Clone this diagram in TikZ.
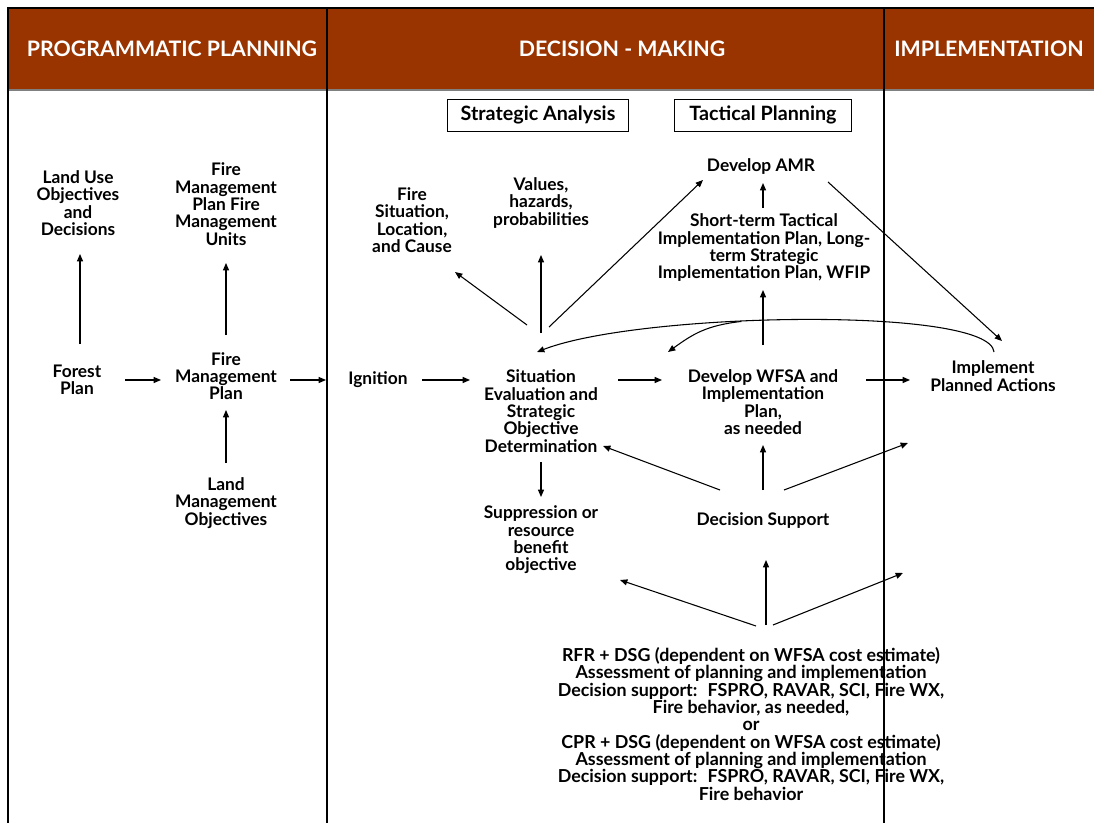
\documentclass[tikz,border=0pt]{standalone}
\usepackage{fontspec}
\setmainfont{Lato}
\usetikzlibrary{arrows.meta,calc}
\definecolor{bandbrown}{RGB}{153,51,0}

\begin{document}
\begin{tikzpicture}[x=0.75pt,y=0.75pt,yscale=-1,xscale=1,
    txt/.style={align=center,inner sep=0pt,font=\bfseries\fontsize{13}{13}\selectfont},
    head/.style={text=white,inner sep=0pt,font=\bfseries\fontsize{16}{18}\selectfont},
    tag/.style={draw,line width=0.6pt,inner xsep=0pt,minimum height=24pt,font=\bfseries\fontsize{14.8}{16}\selectfont},
    rule/.style={line width=1.1pt},
    arr/.style={line width=0.8pt,-{Triangle[length=5.5pt,width=4.5pt]}}]
        \useasboundingbox (0,0) rectangle (1094,823);

        %Shape: Header band
        \fill [bandbrown] (8,8) rectangle (1094,90);
        \draw [gray,line width=1.1pt] (8,90) -- (1094,90);
        %Straight Lines: column rules
        \draw [rule] (8,823) -- (8,8) -- (1094,8);
        \draw [rule] (327,8) -- (327,823);
        \draw [rule] (884,8) -- (884,823);

        % Text Node
        \draw (172,49) node [head] (hplan) {PROGRAMMATIC PLANNING};
        % Text Node
        \draw (622,49) node [head] (hdecide) {DECISION - MAKING};
        % Text Node
        \draw (989,49) node [head] (himpl) {IMPLEMENTATION};

        % Text Node
        \draw (538,115) node [tag,minimum width=135.75pt] (strat) {Strategic Analysis};
        % Text Node
        \draw (763,115) node [tag,minimum width=132.75pt] (tact) {Tactical Planning};

        % Text Node
        \draw (78,203) node [txt] (landuse) {Land Use\\Objectives\\and\\Decisions};
        % Text Node
        \draw (226,204) node [txt] (fmu) {Fire\\Management\\Plan Fire\\Management\\Units};
        % Text Node
        \draw (77,380) node [txt] (forest) {Forest\\Plan};
        % Text Node
        \draw (226,376) node [txt] (fmp) {Fire\\Management\\Plan};
        % Text Node
        \draw (226,503) node [txt] (lmo) {Land\\Management\\Objectives};
        % Text Node
        \draw (378,380) node [txt] (ign) {Ignition};
        % Text Node
        \draw (541,411) node [txt] (sit) {Situation\\Evaluation and\\Strategic\\Objective\\Determination};
        % Text Node
        \draw (412,220) node [txt] (firesit) {Fire\\Situation,\\Location,\\and Cause};
        % Text Node
        \draw (541,203) node [txt] (values) {Values,\\hazards,\\probabilities};
        % Text Node
        \draw (761,167) node [txt] (amr) {Develop AMR};
        % Text Node
        \draw (764,248) node [txt] (short) {Short-term Tactical\\Implementation Plan, Long-\\term Strategic\\Implementation Plan, WFIP};
        % Text Node
        \draw (763,402) node [txt] (wfsa) {Develop WFSA and\\Implementation\\Plan,\\as needed};
        % Text Node
        \draw (993,376) node [txt] (impl) {Implement\\Planned Actions};
        % Text Node
        \draw (541,540) node [txt] (supp) {Suppression or\\resource\\benefit\\objective};
        % Text Node
        \draw (763,521) node [txt] (ds) {Decision Support};
        % Text Node
        \draw (751,724) node [txt,font=\bfseries\fontsize{13.4}{13}\selectfont] (tools) {RFR + DSG (dependent on WFSA cost estimate)\\Assessment of planning and implementation\\Decision support:~ FSPRO, RAVAR, SCI, Fire WX,\\Fire behavior, as needed,\\or\\CPR + DSG (dependent on WFSA cost estimate)\\Assessment of planning and implementation\\Decision support:~ FSPRO, RAVAR, SCI, Fire WX,\\Fire behavior};

        %Straight Lines: programmatic planning
        \draw [arr] ($(forest)+(3,-36)$) -- ($(landuse)+(2,51)$);
        \draw [arr] ($(fmp)+(0,-41)$) -- ($(fmu)+(0,59)$);
        \draw [arr] ($(lmo)+(0,-40)$) -- ($(fmp)+(0,34)$);
        \draw [arr] ($(forest)+(48,0)$) -- ($(fmp)+(-65,4)$);
        \draw [arr] ($(fmp)+(64,4)$) -- ($(ign)+(-52,0)$);

        %Straight Lines: main flow
        \draw [arr] ($(ign)+(44,0)$) -- ($(sit)+(-71,-31)$);
        \draw [arr] ($(sit)+(77,-31)$) -- ($(wfsa)+(-101,-22)$);
        \draw [arr] ($(wfsa)+(103,-22)$) -- ($(impl)+(-83,4)$);
        \draw [arr] ($(sit)+(0,51)$) -- ($(supp)+(0,-43)$);
        \draw [arr] ($(wfsa)+(0,-57)$) -- ($(short)+(-1,42)$);
        \draw [arr] ($(short)+(-1,-40)$) -- ($(amr)+(2,16)$);

        %Straight Lines: strategic analysis
        \draw [arr] ($(sit)+(-14,-86)$) -- ($(firesit)+(43,52)$);
        \draw [arr] ($(sit)+(0,-78)$) -- ($(values)+(0,52)$);
        \draw [arr] ($(sit)+(8,-84)$) -- ($(amr)+(-58,13)$);
        \draw [arr] ($(amr)+(67,15)$) -- ($(impl)+(9,-35)$);

        %Straight Lines: decision support
        \draw [arr] ($(ds)+(-43,-31)$) -- ($(sit)+(62,35)$);
        \draw [arr] ($(ds)+(0,-31)$) -- ($(wfsa)+(0,43)$);
        \draw [arr] ($(ds)+(21,-31)$) -- ($(impl)+(-85,67)$);
        \draw [arr] ($(tools)+(5,-98)$) -- ($(supp)+(79,40)$);
        \draw [arr] ($(tools)+(15,-99)$) -- ($(ds)+(3,39)$);
        \draw [arr] ($(tools)+(22,-99)$) -- ($(impl)+(-90,197)$);

        %Curve Lines: feedback
        \draw [arr] ($(impl)+(1,-24)$) .. controls ($(impl)+(-3,-70)$) and ($(sit)+(99,-99)$) .. ($(sit)+(-4,-59)$) coordinate [pos=0.6] (fork);
        \draw [arr] (fork) .. controls ($(fork)+(-35,4)$) and ($(wfsa)+(-70,-68)$) .. ($(wfsa)+(-95,-50)$);

\end{tikzpicture}
\end{document}
